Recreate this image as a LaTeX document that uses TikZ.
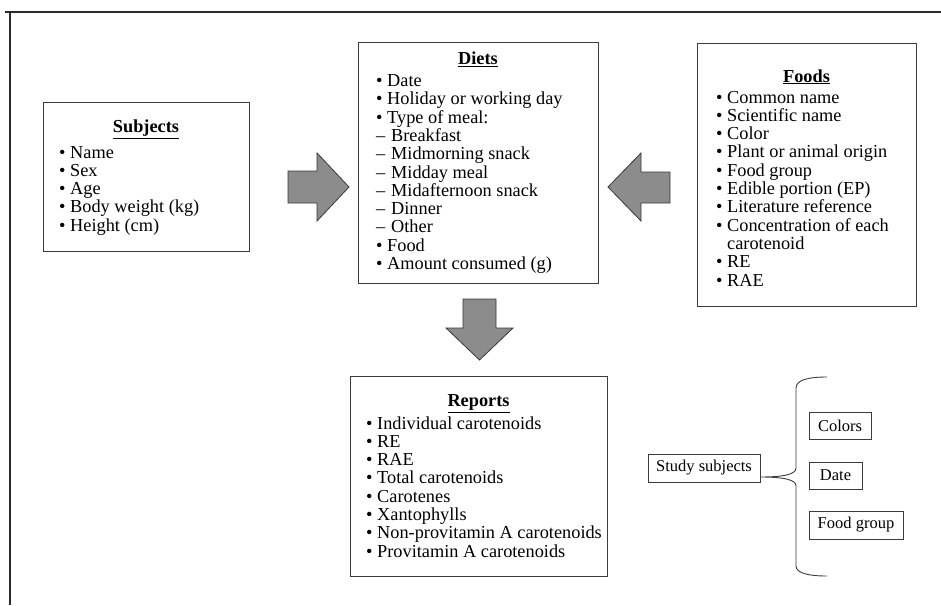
\documentclass[tikz,border=0pt]{standalone}
\usepackage{fontspec}
\setmainfont{Liberation Serif}
\definecolor{boxc}{HTML}{3C3C3C}
\definecolor{framec}{HTML}{2A2A2A}
\definecolor{arrowc}{HTML}{8C8C8C}
\definecolor{arrowe}{HTML}{383838}
\newcommand\itemlines[1]{\vtop{\baselineskip=18.3pt\lineskiplimit=-100pt\lineskip=0pt\halign{##\hfil\cr#1\crcr}}}
\newcommand\bul{\makebox[11pt][l]{\textbullet}}
\newcommand\subdash{\makebox[15pt][l]{–}}
\begin{document}
\begin{tikzpicture}[x=1pt,y=-1pt,
  box/.style={draw=boxc, line width=1.1pt, inner sep=0pt, fill=white, anchor=north west},
  ttl/.style={anchor=base, inner sep=0pt, font=\fontsize{18.3}{18.3}\selectfont\bfseries},
  lst/.style={anchor=base west, inner sep=0pt, font=\fontsize{18.3}{18.3}\selectfont},
  small/.style={draw=boxc, line width=1pt, inner sep=0pt, font=\fontsize{16.5}{16.5}\selectfont},
  blk/.style={fill=arrowc, draw=arrowe, line width=0.8pt, line join=miter},
  frameline/.style={draw=framec, line width=1.6pt}]
\useasboundingbox (0,0) rectangle (941,605);
% partial outer frame
\coordinate (ftl) at (10,12);
\coordinate (ftr) at (941,12);
\coordinate (fbl) at (10,605);
\coordinate (fts) at (5,12);
\path[frameline] (fts) -- (ftr);
\path[frameline] (ftl) -- (fbl);

% main boxes
\node[box, minimum width=206pt, minimum height=149pt] (subj) at (43,102) {};
\node[box, minimum width=240pt, minimum height=241pt] (diets) at (358,42) {};
\node[box, minimum width=219pt, minimum height=263pt] (foods) at (697,43) {};
\node[box, minimum width=257pt, minimum height=200pt] (reports) at (350,376) {};

% titles
\node[ttl] (subjT) at (146,132.5) {\underline{Subjects}};
\node[ttl] (dietsT) at (478,64.5) {\underline{Diets}};
\node[ttl] (foodsT) at (806.5,82) {\underline{Foods}};
\node[ttl] (reportsT) at (478.5,406.5) {\underline{Reports}};

% lists
\node[lst] (subjL) at (59,158) {\itemlines{\bul Name\cr \bul Sex\cr \bul Age\cr \bul Body weight (kg)\cr \bul Height (cm)}};
\node[lst] (dietsL) at (376,86.5) {\itemlines{\bul Date\cr \bul Holiday or working day\cr \bul Type of meal:\cr \subdash Breakfast\cr \subdash Midmorning snack\cr \subdash Midday meal\cr \subdash Midafternoon snack\cr \subdash Dinner\cr \subdash Other\cr \bul Food\cr \bul Amount consumed (g)}};
\node[lst] (foodsL) at (716,103) {\itemlines{\bul Common name\cr \bul Scientific name\cr \bul Color\cr \bul Plant or animal origin\cr \bul Food group\cr \bul Edible portion (EP)\cr \bul Literature reference\cr \bul Concentration of each\cr \hskip11pt carotenoid\cr \bul RE\cr \bul RAE}};
\node[lst] (reportsL) at (366,429) {\itemlines{\bul Individual carotenoids\cr \bul RE\cr \bul RAE\cr \bul Total carotenoids\cr \bul Carotenes\cr \bul Xantophylls\cr \bul Non-provitamin A carotenoids\cr \bul Provitamin A carotenoids}};

% block arrows
\path[blk] (288,171) -- (317,171) -- (317,153) -- (349,187) -- (317,221) -- (317,203) -- (288,203) -- cycle;
\path[blk] (670,172) -- (641,172) -- (641,153) -- (608,187) -- (641,221) -- (641,203) -- (670,203) -- cycle;
\path[blk] (463,299) -- (496,299) -- (496,328) -- (513,328) -- (479.5,360) -- (446,328) -- (463,328) -- cycle;

% small boxes
\node[small, minimum width=112pt, minimum height=28pt] (study) at (704,468) {Study subjects};
\node[small, minimum width=62pt, minimum height=27pt] (colors) at (840,425.5) {Colors};
\node[small, minimum width=53pt, minimum height=27pt] (date) at (835.5,475.5) {Date};
\node[small, minimum width=94pt, minimum height=28pt] (fgroup) at (856,525) {Food group};

% brace
\coordinate (btop) at (827,377);
\coordinate (bbot) at (827,576);
\coordinate (btip) at (study.east |- 0,477);
\draw[boxc, line width=0.9pt] (btop) .. controls (808,377) and (796,380) .. (796,388)
  -- (796,468) .. controls (796,474) and (785,477) .. (btip)
  .. controls (785,477) and (796,480) .. (796,486)
  -- (796,566) .. controls (796,573) and (808,576) .. (bbot);
\end{tikzpicture}
\end{document}
